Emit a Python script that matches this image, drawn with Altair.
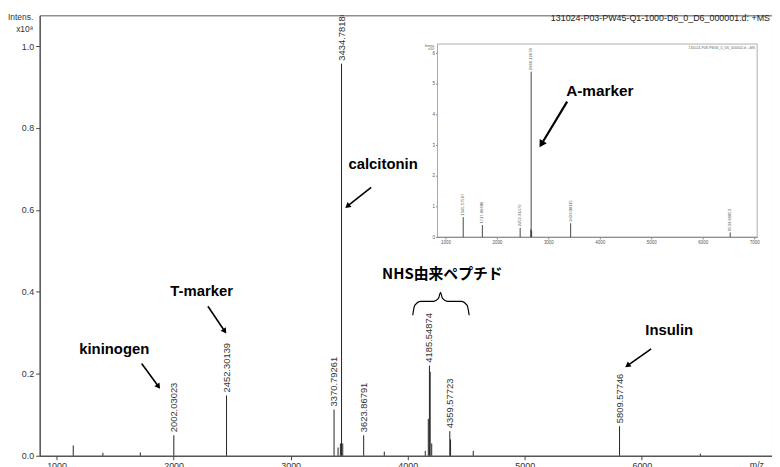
import math
import altair as alt
import pandas as pd

FONT = "Liberation Sans"
CJK = "Noto Sans CJK JP"

# ---------------- main spectrum ----------------
peak_mz = [1143, 1396, 1716, 2002.03, 2452.30, 3370.79, 3405, 3425, 3434.78, 3445,
           3623.87, 3800, 4150, 4176, 4185.55, 4192, 4205, 4359.58, 4366, 4560, 5809.58, 6500]
peak_int = [0.025, 0.007, 0.008, 0.050, 0.147, 0.113, 0.020, 0.030, 0.957, 0.030,
            0.050, 0.010, 0.012, 0.090, 0.220, 0.205, 0.030, 0.060, 0.040, 0.012, 0.072, 0.005]

label_mz = [2002.03023, 2452.30139, 3370.79261, 3434.78180, 3623.86791, 4185.54874, 4359.57723, 5809.57746]
label_int = [0.050, 0.147, 0.113, 0.957, 0.050, 0.220, 0.060, 0.072]
label_text = ["2002.03023", "2452.30139", "3370.79261", "3434.78180", "3623.86791",
              "4185.54874", "4359.57723", "5809.57746"]

x_domain = [856, 7112]
y_domain = [0, 1.075]
x_ticks = [1000, 2000, 3000, 4000, 5000, 6000]
y_ticks = [0.0, 0.2, 0.4, 0.6, 0.8, 1.0]

# annotations (data units of the main plot)
ann_text = ["kininogen", "T-marker", "calcitonin", "Insulin"]
ann_mz = [1194, 1972, 3494, 6030]
ann_int = [0.261, 0.403, 0.713, 0.307]

nhs_text = ["NHS由来ペプチド"]
nhs_mz = [3781]
nhs_int = [0.444]

arrow_mz1 = [1727, 2293, 3688, 6080]
arrow_int1 = [0.225, 0.365, 0.655, 0.261]
arrow_mz2 = [1871, 2437, 3485, 5877]
arrow_int2 = [0.169, 0.304, 0.609, 0.220]

brace_mz = [4043, 4060, 4111, 4221, 4263, 4280, 4297, 4339, 4457, 4508, 4525]
brace_int = [0.343, 0.367, 0.377, 0.377, 0.384, 0.399, 0.384, 0.377, 0.377, 0.367, 0.343]

# ---------------- inset spectrum ----------------
inset_mz = [1345.58, 1717.87, 2452.31, 2660, 2666.13, 2675, 3433.08, 6533.70]
inset_int = [0.65, 0.39, 0.30, 0.25, 5.40, 0.20, 0.45, 0.15]
inset_label_mz = [1345.57567, 1717.86606, 2452.31479, 2666.12678, 3433.08115, 6533.69853]
inset_label_int = [0.65, 0.39, 0.30, 5.40, 0.45, 0.15]
inset_label_text = ["1345.57567", "1717.86606", "2452.31479", "2666.12678", "3433.08115", "6533.69853"]
inset_x_domain = [846, 7058]
inset_y_domain = [0, 6.3]
inset_x_ticks = [1000, 2000, 3000, 4000, 5000, 6000, 7000]
inset_y_ticks = [0, 1, 2, 3, 4, 5, 6]

amark_text = ["A-marker"]
amark_mz = [3346]
amark_int = [4.77]
amark_arrow_mz1 = [3365]
amark_arrow_int1 = [4.42]
amark_arrow_mz2 = [2865]
amark_arrow_int2 = [3.03]

W, H = 740, 445
INSET_X_RANGE = [402, 725]
INSET_Y_RANGE = [224, 29]

# ---------- scales / axes ----------
xs = alt.Scale(domain=x_domain, nice=False, zero=False)
ys = alt.Scale(domain=y_domain, nice=False, zero=False)
x_axis = alt.Axis(values=x_ticks, format="d", labelFontSize=9, labelColor="#333", tickSize=4,
                  tickColor="#444", domainColor="#444", labelPadding=2, grid=False,
                  title="m/z", titleFontSize=9, titleFontWeight="normal", titleColor="#333",
                  titleAlign="left", titleBaseline="top", titleX=717, titleY=5)
y_axis = alt.Axis(values=y_ticks, format=".1f", labelFontSize=9, labelColor="#333", tickSize=4,
                  tickColor="#444", domainColor="#444", labelPadding=2, grid=False,
                  title=["Intens.", "x10⁸"], titleAngle=0, titleAlign="right", titleBaseline="alphabetic",
                  titleX=-7, titleY=4, titleFontSize=8.5, titleFontWeight="normal", titleColor="#333",
                  titleLineHeight=12)

X = lambda f="mz": alt.X(f"{f}:Q", scale=xs, axis=x_axis)
Y = lambda f="int": alt.Y(f"{f}:Q", scale=ys, axis=y_axis)

ixs = alt.Scale(domain=inset_x_domain, range=INSET_X_RANGE, nice=False, zero=False)
iys = alt.Scale(domain=inset_y_domain, range=INSET_Y_RANGE, nice=False, zero=False)
ix_axis = alt.Axis(orient="bottom", offset=-(H - INSET_Y_RANGE[0]), values=inset_x_ticks, format="d",
                   labelFontSize=4.5, labelColor="#555", tickSize=2, tickColor="#888",
                   domainColor="#888", labelPadding=1, grid=False, title="")
iy_axis = alt.Axis(orient="left", offset=-INSET_X_RANGE[0], values=inset_y_ticks, format="d",
                   labelFontSize=4.5, labelColor="#555", tickSize=2, tickColor="#888",
                   domainColor="#888", labelPadding=1, grid=False,
                   title=["Intens.", "x10⁷"], titleAngle=0, titleAlign="right", titleBaseline="alphabetic",
                   titleX=-3, titleY=INSET_Y_RANGE[1] + 2, titleFontSize=3.5, titleFontWeight="normal",
                   titleColor="#555", titleLineHeight=4)
IX = lambda f="mz": alt.X(f"{f}:Q", scale=ixs, axis=ix_axis)
IY = lambda f="int": alt.Y(f"{f}:Q", scale=iys, axis=iy_axis)


def arrow_angles(mz1, i1, mz2, i2, kx, ky):
    out = []
    for a, b, c, d in zip(mz1, i1, mz2, i2):
        dx = (c - a) * kx
        dy = -(d - b) * ky
        out.append(math.degrees(math.atan2(dx, -dy)) % 360)
    return out


# ---------- main layers ----------
peaks = pd.DataFrame({"mz": peak_mz, "int": peak_int, "zero": [0] * len(peak_mz)})
peak_layer = alt.Chart(peaks).mark_rule(color="#222", strokeWidth=1).encode(
    x=X(), y=Y(), y2="zero:Q")

labels = pd.DataFrame({"mz": label_mz, "int": label_int, "t": label_text})
label_layer = alt.Chart(labels).mark_text(angle=270, align="left", baseline="middle", dx=3,
                                          fontSize=9.5, font=FONT, color="#333", clip=True).encode(
    x=X(), y=Y(), text="t:N")

ann = pd.DataFrame({"mz": ann_mz, "int": ann_int, "t": ann_text})
ann_layer = alt.Chart(ann).mark_text(align="left", baseline="middle", fontSize=15, fontWeight="bold",
                                     font=FONT, color="#000").encode(x=X(), y=Y(), text="t:N")

nhs = pd.DataFrame({"mz": nhs_mz, "int": nhs_int, "t": nhs_text})
nhs_layer = alt.Chart(nhs).mark_text(align="left", baseline="middle", fontSize=15, fontWeight="bold",
                                     font=CJK, color="#000").encode(x=X(), y=Y(), text="t:N")

arrows = pd.DataFrame({"mz": arrow_mz1, "int": arrow_int1, "mz2": arrow_mz2, "int2": arrow_int2,
                       "ang": arrow_angles(arrow_mz1, arrow_int1, arrow_mz2, arrow_int2, W / (x_domain[1] - x_domain[0]), H / (y_domain[1] - y_domain[0]))})
arrow_line = alt.Chart(arrows).mark_rule(color="#000", strokeWidth=1.6).encode(
    x=X(), y=Y(), x2="mz2:Q", y2="int2:Q")
arrow_head = alt.Chart(arrows).mark_point(shape="triangle-up", filled=True, color="#000", size=40,
                                          opacity=1).encode(
    x=X("mz2"), y=Y("int2"), angle=alt.Angle("ang:Q", scale=None))

brace = pd.DataFrame({"mz": brace_mz, "int": brace_int})
brace_layer = alt.Chart(brace).mark_line(color="#000", strokeWidth=1.2, interpolate="monotone").encode(
    x=X(), y=Y())

main = alt.layer(peak_layer, label_layer, ann_layer, nhs_layer, arrow_line, arrow_head, brace_layer)

# ---------- inset layers ----------
frame = pd.DataFrame({"mz": [inset_x_domain[0]], "mz2": [inset_x_domain[1]],
                      "int": [inset_y_domain[0]], "int2": [inset_y_domain[1]]})
frame_layer = alt.Chart(frame).mark_rect(fill="white", stroke="#999", strokeWidth=0.8).encode(
    x=IX(), x2="mz2:Q", y=IY(), y2="int2:Q")

ipeaks = pd.DataFrame({"mz": inset_mz, "int": inset_int, "zero": [0] * len(inset_mz)})
ipeak_layer = alt.Chart(ipeaks).mark_rule(color="#333", strokeWidth=0.9).encode(
    x=IX(), y=IY(), y2="zero:Q")

ilabels = pd.DataFrame({"mz": inset_label_mz, "int": inset_label_int, "t": inset_label_text})
ilabel_layer = alt.Chart(ilabels).mark_text(angle=270, align="left", baseline="middle", dx=1.5,
                                            fontSize=4.2, font=FONT, color="#555").encode(
    x=IX(), y=IY(), text="t:N")

amark = pd.DataFrame({"mz": amark_mz, "int": amark_int, "t": amark_text})
amark_layer = alt.Chart(amark).mark_text(align="left", baseline="middle", fontSize=15.5, fontWeight="bold",
                                         font=FONT, color="#000").encode(x=IX(), y=IY(), text="t:N")

ikx = (INSET_X_RANGE[1] - INSET_X_RANGE[0]) / (inset_x_domain[1] - inset_x_domain[0])
iky = (INSET_Y_RANGE[0] - INSET_Y_RANGE[1]) / (inset_y_domain[1] - inset_y_domain[0])
iarrow = pd.DataFrame({"mz": amark_arrow_mz1, "int": amark_arrow_int1, "mz2": amark_arrow_mz2,
                       "int2": amark_arrow_int2,
                       "ang": arrow_angles(amark_arrow_mz1, amark_arrow_int1, amark_arrow_mz2, amark_arrow_int2, ikx, iky)})
iarrow_line = alt.Chart(iarrow).mark_rule(color="#000", strokeWidth=2.2).encode(
    x=IX(), y=IY(), x2="mz2:Q", y2="int2:Q")
iarrow_head = alt.Chart(iarrow).mark_point(shape="triangle-up", filled=True, color="#000", size=70,
                                           opacity=1).encode(
    x=IX("mz2"), y=IY("int2"), angle=alt.Angle("ang:Q", scale=None))

ititle = pd.DataFrame({"mz": [inset_x_domain[1]], "int": [inset_y_domain[1]],
                       "t": ["131024-P08-PW45_0_D6_000002.d: +MS"]})
ititle_layer = alt.Chart(ititle).mark_text(align="right", baseline="top", dx=-2, dy=2, fontSize=3.6,
                                           font=FONT, color="#666").encode(x=IX(), y=IY(), text="t:N")

inset = alt.layer(frame_layer, ipeak_layer, ilabel_layer, amark_layer, iarrow_line, iarrow_head, ititle_layer)

chart = alt.layer(main, inset).resolve_scale(x="independent", y="independent").properties(
    width=W, height=H,
    autosize=alt.AutoSizeParams(type="none"),
    padding={"left": 32, "top": 5, "right": 0, "bottom": 12},
    title=alt.TitleParams(text="131024-P03-PW45-Q1-1000-D6_0_D6_000001.d: +MS", anchor="end",
                          frame="group", fontSize=9, fontWeight="normal", font=FONT, color="#222",
                          offset=0, baseline="top", dy=11, dx=-2),
).configure(font=FONT).configure_view(stroke="#555", strokeWidth=1)

chart.save("out.html", embed_options={"renderer": "svg", "actions": False})
